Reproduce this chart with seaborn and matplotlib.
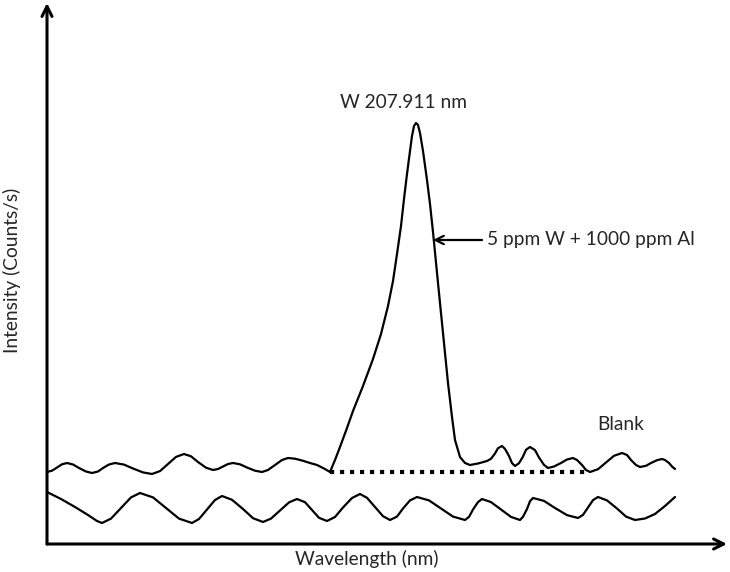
import matplotlib
matplotlib.use("Agg")
import matplotlib.pyplot as plt
import seaborn as sns
import pandas as pd

# ------------------------
# Spectrum traces (wavelength units along x axis, intensity above baseline)
# ------------------------
SAMPLE_WL = [0, 5, 10, 15, 20, 26, 32, 39, 45, 51, 56, 62, 68, 77, 86, 96, 105,
             113, 121, 129, 137, 144, 151, 159, 166, 171, 176, 181, 186, 193, 200,
             208, 215, 221, 228, 235, 241, 248, 255, 263, 270, 277, 283,
             288, 293, 300, 306, 316, 326, 334, 341, 346, 350, 354, 357, 360, 363,
             365, 367, 369, 371, 373, 376, 380, 383, 386, 391, 396, 401, 405, 408,
             413, 418, 423, 431, 440, 444, 448, 451, 455, 458, 462, 465, 468, 472,
             476, 479, 483, 488, 492, 497, 501, 507, 514, 520, 526, 530, 535, 539,
             543, 551, 559, 567, 575, 580, 584, 589, 593, 599, 604, 610, 615, 618,
             622, 625, 628]
SAMPLE_INT = [72, 73.3, 76.5, 79.7, 81, 79.5, 76, 72.5, 71, 72.5, 76, 79.5, 81,
              79.4, 75.5, 71.6, 70, 72.9, 80, 87.1, 90, 87.7, 82, 76.3, 74, 75, 77.5,
              80, 81, 79.7, 76.5, 73.3, 72, 74, 79, 84, 86, 85.3, 83.5, 81, 79, 75.5,
              72, 84, 97, 116, 133, 158, 185, 210, 238, 263, 290, 318, 345, 370, 393,
              408, 418, 421, 419, 411, 393, 364, 340, 312, 261, 211, 161, 127, 104,
              87, 81, 79, 80.5, 83, 85.2, 90.5, 95.8, 98, 95.1, 88, 80.9, 78, 80.8,
              87.5, 94.2, 97, 93.9, 86.5, 79.1, 76, 77.5, 81, 84.5, 86, 84, 79, 74,
              72, 74.8, 81.5, 88.2, 91, 89, 84, 79, 77, 78.2, 81, 83.8, 85, 84,
              81, 77.5, 75]

BLANK_WL = [0, 14, 28, 41, 50, 55, 64, 74, 84, 93, 106, 119, 132, 145, 152, 160,
            168, 175, 185, 196, 206, 216, 224, 233, 242, 250, 258, 265, 272, 280,
            288, 296, 305, 313, 320, 328, 336, 343, 350, 356, 363, 370, 382, 394,
            406, 418, 422, 426, 431, 435, 444, 454, 464, 473, 476, 480, 483, 486,
            497, 508, 520, 531, 536, 541, 546, 551, 560, 570, 579, 588, 598, 608,
            618, 628]
BLANK_INT = [52, 45, 37, 29, 23, 21, 25.4, 36, 46.6, 51, 46.6, 36, 25.4, 21, 25,
             34.5, 44, 48, 44.2, 35, 25.8, 22, 25.4, 33.5, 41.6, 45, 41.8, 34, 26.2,
             23, 27, 36.5, 46, 50, 46.2, 37, 27.8, 24, 27.4, 35.5, 43.6, 47, 43.6,
             35.5, 27.4, 24, 27.1, 34.5, 41.9, 45, 41.9, 34.5, 27.1, 24, 27.2, 35,
             42.8, 46, 43.1, 36, 28.9, 26, 29.1, 36.5, 43.9, 47, 43.6, 35.5, 27.4,
             24, 25.5, 30, 38, 47]

BASELINE_WL = [283, 541]
BASELINE_INT = [72, 72]

PEAK_LABEL = "W 207.911 nm"
SAMPLE_LABEL = "5 ppm W + 1000 ppm Al"
BLANK_LABEL = "Blank"
X_LABEL = "Wavelength (nm)"
Y_LABEL = "Intensity (Counts/s)"

sns.set_style("white")
plt.rcParams["font.family"] = ["Lato", "DejaVu Sans"]

fig = plt.figure(figsize=(7.3, 5.72), dpi=100)
ax = fig.add_axes([47 / 730, 28 / 572, 680 / 730, 541 / 572])
ax.set_xlim(0, 680)
ax.set_ylim(0, 541)

sample = pd.DataFrame({"wl": SAMPLE_WL, "intensity": SAMPLE_INT})
blank = pd.DataFrame({"wl": BLANK_WL, "intensity": BLANK_INT})
base = pd.DataFrame({"wl": BASELINE_WL, "intensity": BASELINE_INT})

sns.lineplot(data=sample, x="wl", y="intensity", sort=False, estimator=None,
             color="black", lw=1.6, ax=ax)
sns.lineplot(data=blank, x="wl", y="intensity", sort=False, estimator=None,
             color="black", lw=1.6, ax=ax)
for line in ax.lines:
    line.set_solid_joinstyle("round")
    line.set_solid_capstyle("round")

ax.plot(base["wl"], base["intensity"], color="black", lw=3,
        linestyle=(0, (1, 1.4)), dash_capstyle="butt")

# axes with arrowheads, no ticks
for s in ["top", "right", "left", "bottom"]:
    ax.spines[s].set_visible(False)
ax.set_xticks([])
ax.set_yticks([])
ax.set_xlabel("")
ax.set_ylabel("")
ax.annotate("", xy=(1, 0), xytext=(0, 0), xycoords="axes fraction",
            arrowprops=dict(arrowstyle="->", lw=2.2, color="black",
                            mutation_scale=18, shrinkA=0, shrinkB=0),
            annotation_clip=False)
ax.annotate("", xy=(0, 1), xytext=(0, 0), xycoords="axes fraction",
            arrowprops=dict(arrowstyle="->", lw=2.2, color="black",
                            mutation_scale=18, shrinkA=0, shrinkB=0),
            annotation_clip=False)

# labels
fs = 13.8
ax.text(293, 441, PEAK_LABEL, ha="left", va="center", fontsize=fs)
ax.annotate("", xy=(386, 304), xytext=(435, 304),
            arrowprops=dict(arrowstyle="->", lw=1.6, color="black",
                            mutation_scale=15, shrinkA=0, shrinkB=0))
ax.text(440, 304, SAMPLE_LABEL, ha="left", va="center", fontsize=fs)
ax.text(550, 120, BLANK_LABEL, ha="left", va="center", fontsize=fs)
fig.text(367 / 730, 1 - 559 / 572, X_LABEL, ha="center", va="center", fontsize=fs)
fig.text(12 / 730, 1 - 270 / 572, Y_LABEL, ha="center", va="center",
         rotation=90, fontsize=fs)

fig.savefig("out.png", dpi=100, facecolor="white")
